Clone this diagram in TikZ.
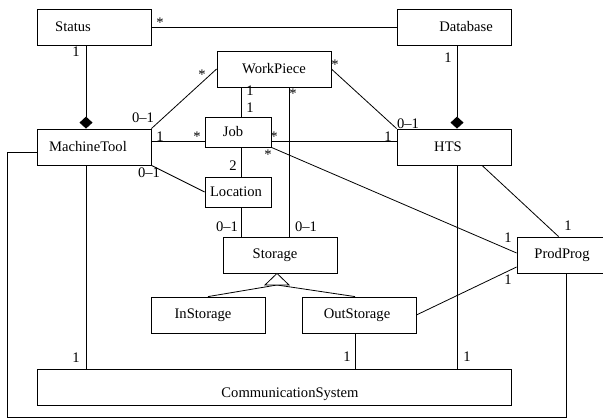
\documentclass[tikz,border=0pt]{standalone}
\usepackage{fontspec}
\setmainfont{Liberation Serif}
\usetikzlibrary{arrows.meta}

\begin{document}
\begin{tikzpicture}[x=1pt,y=-1pt,line width=.8pt,font=\fontsize{14.6}{17}\selectfont,
  box/.style={rectangle,draw=black,minimum width=114pt,minimum height=36pt,inner sep=0pt},
  smallbox/.style={box,minimum width=66pt,minimum height=30pt},
  mult/.style={anchor=base,inner sep=0pt},
  comp/.style={-{Diamond[width=13pt,length=12pt]}}]
\useasboundingbox (0,0) rectangle (603,419);
% Classes
\node at (94,27) [box,label={[xshift=-21pt]center:Status}] (Status) {};
\node at (454,27) [box,label={[xshift=12pt]center:Database}] (Database) {};
\node at (274,69) [box,label={center:WorkPiece}] (WorkPiece) {};
\node at (94,147) [box,label={[xshift=-6pt]center:MachineTool}] (MachineTool) {};
\node at (454,147) [box,label={[xshift=-6pt]center:HTS}] (HTS) {};
\node at (238,132) [smallbox,label={[xshift=-5pt]center:Job}] (Job) {};
\node at (238,192) [smallbox,label={[xshift=-2pt]center:Location}] (Location) {};
\node at (280,255) [box,label={[xshift=-5pt]center:Storage}] (Storage) {};
\node at (208,315) [box,label={[xshift=-5pt]center:InStorage}] (InStorage) {};
\node at (359,315) [box,label={[xshift=-2pt]center:OutStorage}] (OutStorage) {};
\node at (574,255) [box,label={[xshift=-12pt]center:ProdProg}] (ProdProg) {};
\node at (274,387) [box,minimum width=474pt,label={[xshift=16pt,yshift=-7pt]center:CommunicationSystem}] (CommSys) {};
% Helper points
\coordinate (GenL) at (265,285);
\coordinate (GenM) at (277,285);
\coordinate (GenR) at (289,285);
\coordinate (LoopBL) at (7,417);
% Associations
\draw (Status.east) -- (Database.west);
\draw [comp] ([xshift=-8pt]Status.south) -- ([xshift=-8pt]MachineTool.north);
\draw [comp] ([xshift=3pt]Database.south) -- ([xshift=3pt]HTS.north);
\draw (MachineTool.north east) -- (WorkPiece.west);
\draw ([yshift=6pt]MachineTool.east) -- ([yshift=6pt]MachineTool.east -| Job.west);
\draw (MachineTool.south east) -- (Location.west);
\draw ([xshift=3pt]Job.north) -- ([xshift=3pt]Job.north |- WorkPiece.south);
\draw ([xshift=3pt]Job.south) -- ([xshift=3pt]Location.north);
\draw ([xshift=3pt]Location.south) -- ([xshift=3pt]Location.south |- Storage.north);
\draw ([xshift=9pt]Storage.north) -- ([xshift=9pt]Storage.north |- WorkPiece.south);
\draw (WorkPiece.east) -- (HTS.north west);
\draw ([yshift=-9pt]Job.east) -- ([yshift=-9pt]Job.east -| HTS.west);
\draw (Job.south east) -- ([yshift=2pt]ProdProg.west);
\draw (OutStorage.east) -- ([yshift=-12pt]ProdProg.west);
\draw ([xshift=28pt]HTS.south) -- ([xshift=42pt]ProdProg.north west);
\draw ([xshift=3pt]HTS.south) -- ([xshift=3pt]HTS.south |- CommSys.north);
\draw ([xshift=-4pt]OutStorage.south) -- ([xshift=-4pt]OutStorage.south |- CommSys.north);
\draw ([xshift=-8pt]MachineTool.south) -- ([xshift=-8pt]MachineTool.south |- CommSys.north);
\draw ([yshift=-5pt]MachineTool.west) -| (LoopBL) -| ([xshift=-8pt]ProdProg.south);
% Generalization
\draw (InStorage.north) -- (GenM);
\draw ([xshift=-4pt]OutStorage.north) -- (GenM);
\draw [fill=white] (GenL) -- ([xshift=-3pt]Storage.south) -- (GenR) -- cycle;
% Multiplicities
\node [mult] at (160,28) {*};
\node [mult] at (76,57) {1};
\node [mult] at (202,80) {*};
\node [mult] at (143,123) {0--1};
\node [mult] at (160,142) {1};
\node [mult] at (197,142) {*};
\node [mult] at (149,178) {0--1};
\node [mult] at (250,96) {1};
\node [mult] at (250,113) {1};
\node [mult] at (293,99) {*};
\node [mult] at (335,70) {*};
\node [mult] at (274,142) {*};
\node [mult] at (268,160) {*};
\node [mult] at (408,129) {0--1};
\node [mult] at (388,142) {1};
\node [mult] at (448,63) {1};
\node [mult] at (233,171) {2};
\node [mult] at (227,232) {0--1};
\node [mult] at (306,232) {0--1};
\node [mult] at (568,231) {1};
\node [mult] at (508,243) {1};
\node [mult] at (508,285) {1};
\node [mult] at (347,362) {1};
\node [mult] at (467,362) {1};
\node [mult] at (76,363) {1};
\end{tikzpicture}
\end{document}
